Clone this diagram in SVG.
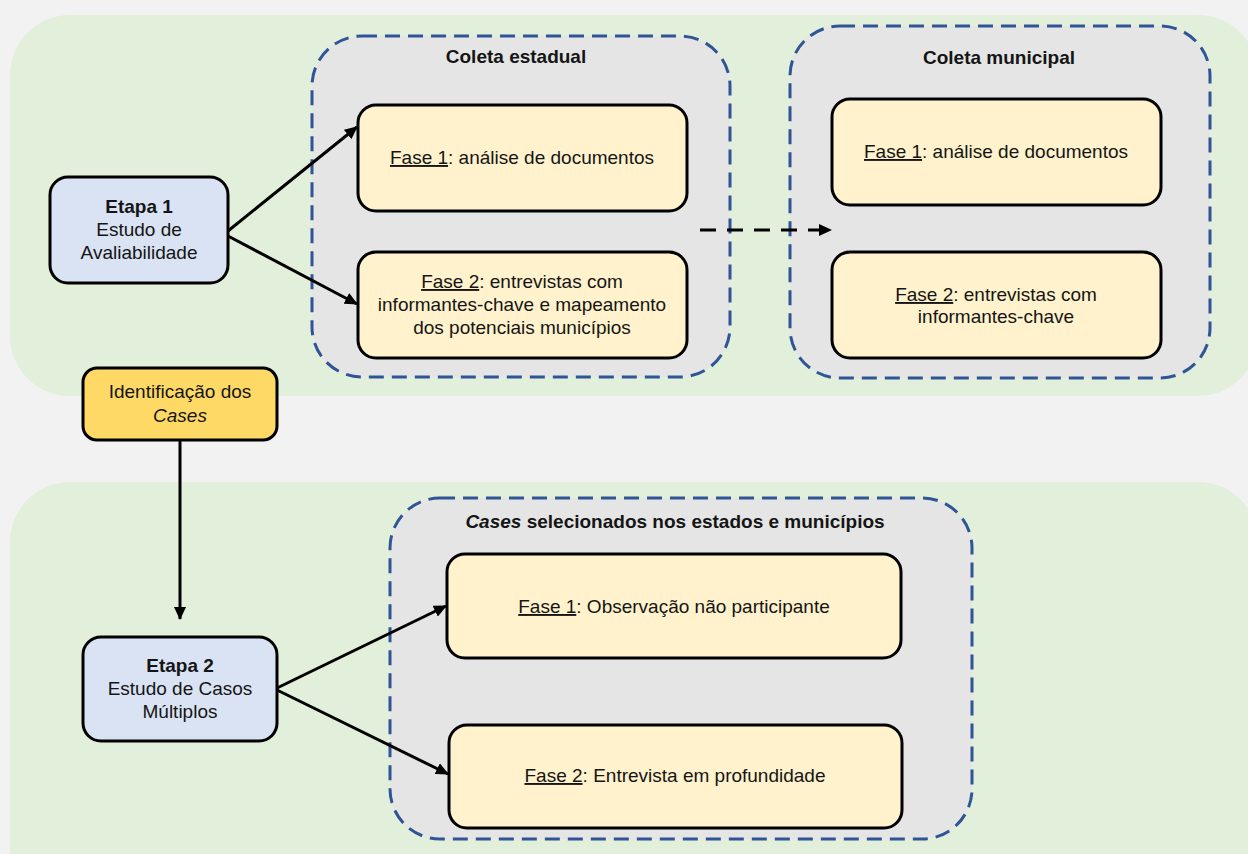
<svg xmlns="http://www.w3.org/2000/svg" width="1248" height="854" viewBox="0 0 1248 854">
<style>
  text { font-family: "Liberation Sans", Arial, sans-serif; font-size: 19px; fill: #151515; text-anchor: middle; }
  .b { font-weight: bold; }
  .i { font-style: italic; }
  .u { text-decoration: underline; }
  .panel { fill: #e2efda; }
  .group { fill: #e5e5e5; stroke: #2f5597; stroke-width: 3; stroke-dasharray: 15 8; }
  .etapa { fill: #dae3f3; stroke: #000; stroke-width: 3; }
  .fase { fill: #fff2cc; stroke: #000; stroke-width: 3; }
  .ident { fill: #ffd966; stroke: #000; stroke-width: 3; }
  .conn { stroke: #000; stroke-width: 3; fill: none; marker-end: url(#arrow); }
  .dash { stroke-dasharray: 16 11; }
</style>
<defs>
  <marker id="arrow" markerUnits="userSpaceOnUse" markerWidth="14" markerHeight="12" refX="12" refY="6" orient="auto">
    <path d="M0,0 L13,6 L0,12 Z" fill="#000"/>
  </marker>
</defs>
<rect width="1248" height="854" fill="#f2f2f2"/>
<g id="panel-etapa1">
  <rect class="panel" x="10" y="15" width="1248" height="381" rx="60"/>
</g>
<g id="panel-etapa2">
  <rect class="panel" x="10" y="482" width="1248" height="430" rx="60"/>
</g>
<g id="coleta-estadual">
  <rect class="group" x="312" y="36" width="418" height="341" rx="50"/>
  <text class="b" x="516" y="63">Coleta estadual</text>
</g>
<g id="coleta-municipal">
  <rect class="group" x="790" y="26" width="420" height="352" rx="50"/>
  <text class="b" x="999" y="64">Coleta municipal</text>
</g>
<g id="cases-selecionados">
  <rect class="group" x="390" y="498" width="582" height="341" rx="50"/>
  <text class="b" x="675" y="528"><tspan class="i">Cases</tspan> selecionados nos estados e municípios</text>
</g>
<g id="etapa1">
  <rect class="etapa" x="50" y="177" width="178" height="106" rx="18"/>
  <text x="139" y="213"><tspan class="b">Etapa 1</tspan></text>
  <text x="139" y="236">Estudo de</text>
  <text x="139" y="259">Avaliabilidade</text>
</g>
<g id="est-fase1">
  <rect class="fase" x="358" y="105" width="329" height="106" rx="18"/>
  <text x="522" y="164"><tspan class="u">Fase 1</tspan>: análise de documentos</text>
</g>
<g id="est-fase2">
  <rect class="fase" x="358" y="252" width="329" height="106" rx="18"/>
  <text x="522" y="288"><tspan class="u">Fase 2</tspan>: entrevistas com</text>
  <text x="522" y="311">informantes-chave e mapeamento</text>
  <text x="522" y="334">dos potenciais municípios</text>
</g>
<g id="mun-fase1">
  <rect class="fase" x="832" y="99" width="329" height="106" rx="18"/>
  <text x="996" y="158"><tspan class="u">Fase 1</tspan>: análise de documentos</text>
</g>
<g id="mun-fase2">
  <rect class="fase" x="832" y="252" width="329" height="106" rx="18"/>
  <text x="996" y="301"><tspan class="u">Fase 2</tspan>: entrevistas com</text>
  <text x="996" y="323">informantes-chave</text>
</g>
<g id="identificacao">
  <rect class="ident" x="83" y="368" width="194" height="72" rx="14"/>
  <text x="180" y="398">Identificação dos</text>
  <text x="180" y="422" class="i">Cases</text>
</g>
<g id="etapa2">
  <rect class="etapa" x="83" y="637" width="194" height="104" rx="18"/>
  <text x="180" y="672" class="b">Etapa 2</text>
  <text x="180" y="695">Estudo de Casos</text>
  <text x="180" y="718">Múltiplos</text>
</g>
<g id="cs-fase1">
  <rect class="fase" x="447" y="554" width="454" height="104" rx="18"/>
  <text x="674" y="613"><tspan class="u">Fase 1</tspan>: Observação não participante</text>
</g>
<g id="cs-fase2">
  <rect class="fase" x="449" y="725" width="453" height="103" rx="18"/>
  <text x="675" y="782"><tspan class="u">Fase 2</tspan>: Entrevista em profundidade</text>
</g>
<g id="connectors">
  <line class="conn" x1="228" y1="231" x2="357" y2="127"/>
  <line class="conn" x1="228" y1="236" x2="357" y2="304"/>
  <line class="conn dash" x1="700" y1="230" x2="831" y2="230"/>
  <line class="conn" x1="180" y1="440" x2="180" y2="619"/>
  <line class="conn" x1="277" y1="688" x2="446" y2="606"/>
  <line class="conn" x1="277" y1="690" x2="448" y2="774"/>
</g>
</svg>
